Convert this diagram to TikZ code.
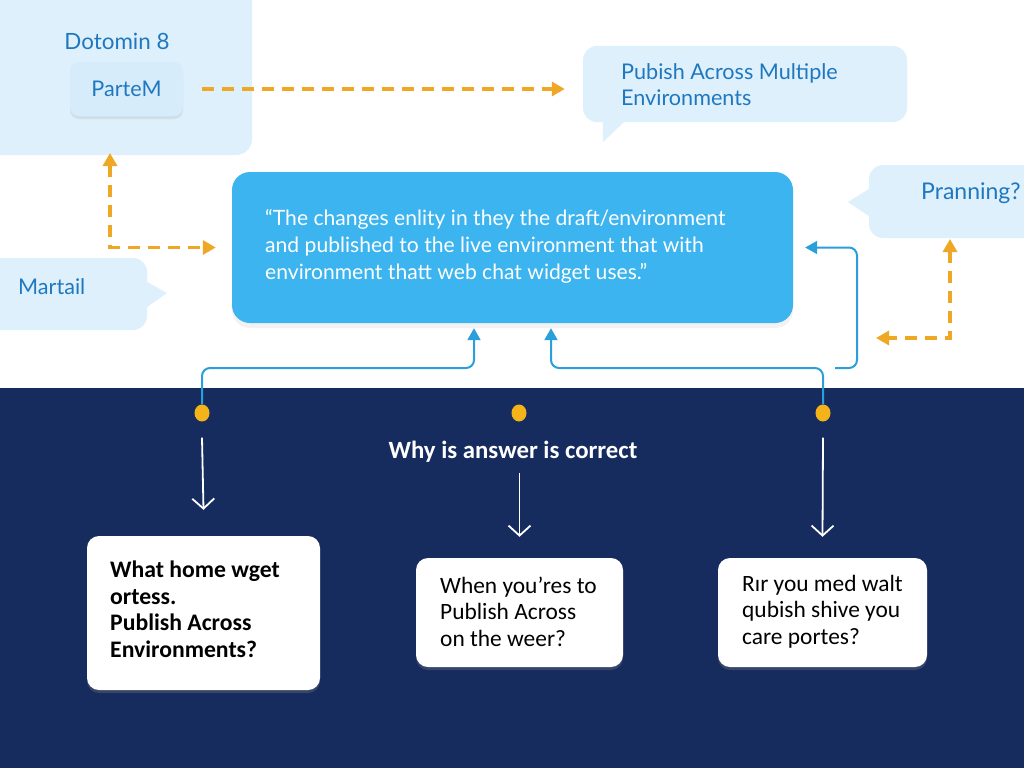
\documentclass[tikz,border=0pt]{standalone}
\usepackage{fontspec}
\setmainfont{Lato}
\newfontfamily\qfont{Carlito}
\usetikzlibrary{arrows.meta,shadows,shapes.geometric}
\definecolor{navy}{HTML}{162C5F}
\definecolor{panelc}{HTML}{DDF0FC}
\definecolor{partemc}{HTML}{D6ECFA}
\definecolor{textblue}{HTML}{1F78BF}
\definecolor{mainc}{HTML}{3BB4EF}
\definecolor{orangec}{HTML}{EFA825}
\definecolor{bluec}{HTML}{2B9FDC}
\definecolor{dotc}{HTML}{F4B419}
\tikzset{
  otip/.tip={Triangle[length=13pt,width=14pt]},
  btip/.tip={Triangle[length=12pt,width=13pt]},
  wtip/.tip={Straight Barb[length=10pt,width=22pt]},
  panelbox/.style={fill=panelc, rounded corners=16pt, inner sep=0pt},
  callout/.style={fill=panelc, rounded corners=14pt, inner sep=0pt},
  partembox/.style={fill=partemc, rounded corners=9pt, inner sep=0pt, minimum width=113pt, minimum height=54pt,
    drop shadow={opacity=0.15, shadow xshift=0pt, shadow yshift=-3pt}},
  mainbox/.style={fill=mainc, rounded corners=18pt, inner sep=0pt, minimum width=561pt, minimum height=151pt,
    drop shadow={opacity=0.10, shadow xshift=0pt, shadow yshift=-5pt}},
  qbox/.style={fill=white, rounded corners=12pt, inner sep=0pt,
    drop shadow={opacity=0.3, shadow xshift=0pt, shadow yshift=-3pt}},
  bluetext/.style={text=textblue, inner sep=0pt, font=\fontsize{21.6}{26}\selectfont},
  oarrow/.style={draw=orangec, line width=3.2pt, dash pattern=on 12pt off 8pt},
  bline/.style={draw=bluec, line width=2pt, rounded corners=8pt},
  warrow/.style={draw=white, line width=1.8pt, -wtip},
  ydot/.style={ellipse, fill=dotc, minimum width=15pt, minimum height=17pt, inner sep=0pt},
  qtext/.style={text=black, inner sep=0pt, anchor=west, align=left, font=\qfont\fontsize{23.4}{26.5}\selectfont},
}
\begin{document}
\begin{tikzpicture}[x=1pt,y=-1pt]
\useasboundingbox (0,0) rectangle (1024,768);
\fill[white] (0,0) rectangle (1024,768);
\fill[navy] (0,388) rectangle (1024,768);

% top-left panel
\node[panelbox, minimum width=272pt, minimum height=175pt] (panel) at (116,67.5) {};
\node[bluetext, font=\fontsize{22.4}{24}\selectfont] (dot8) at (117,41) {Dotomin 8};
\node[partembox] (partem) at (126.5,89) {};
\node[bluetext] (partemt) at (partem) {ParteM};

% publish callout
\node[callout, minimum width=324pt, minimum height=76pt] (pub) at (745,84) {};
\fill[panelc] ([shift={(20,-1)}]pub.south west) -- ++(0,21) -- ++(22,-21) -- cycle;
\node[bluetext, anchor=west, align=left] (pubt) at (621,85) {Pubish Across Multiple\\Environments};

% main box
\node[mainbox] (main) at (512.5,247.5) {};
\node[text=white, inner sep=0pt, anchor=west, align=left, font=\fontsize{21.1}{27}\selectfont] (maint) at (265,246)
  {“The changes enlity in they the draft/environment\\and published to the live environment that with\\environment thatt web chat widget uses.”};

% Martail callout
\node[callout, minimum width=167pt, minimum height=72pt] (mart) at (63.5,294) {};
\fill[panelc] ([yshift=-1]mart.east |- 0,281) -- (167,293) -- ([yshift=-1]mart.east |- 0,306) -- cycle;
\node[bluetext, anchor=west] (martt) at (18,287) {Martail};

% Pranning callout
\node[callout, minimum width=175pt, minimum height=73pt] (pran) at (956.5,201.5) {};
\fill[panelc] (pran.west |- 0,189) -- (848,202) -- (pran.west |- 0,216) -- cycle;
\node[bluetext, anchor=west, font=\fontsize{23}{24}\selectfont] (prant) at (921,193) {Pranning?};

% orange dashed connectors
\draw[oarrow, -otip] ([xshift=19pt]partem.east) -- ([xshift=-18pt]pub.west |- partem.east);
\coordinate (c1) at (110,153);
\draw[oarrow, otip-otip] (c1) |- ([xshift=-16pt]main.west);
\coordinate (c2) at (950,239);
\coordinate (c3) at (876,338);
\draw[oarrow, otip-otip] (c2) |- (c3);

% dots
\node[ydot] (d1) at (202,413) {};
\node[ydot] (d2) at (519,413) {};
\node[ydot] (d3) at (823,413) {};

% blue connectors
\coordinate (h1) at (0,368);
\coordinate (a1) at ([xshift=-38.5pt,yshift=-5pt]main.south);
\coordinate (a2) at ([xshift=38.5pt,yshift=-5pt]main.south);
\draw[bline, -btip] (d1.north) -- (d1 |- h1) -| (a1);
\draw[bline, -btip] (d3.north) -- (d3 |- h1) -| (a2);
\coordinate (b0) at (835,368);
\coordinate (b1) at (857,368);
\draw[bline, -btip] (b0) -- (b1) |- ([xshift=12pt]main.east);

% bottom
\node[text=white, inner sep=0pt, font=\qfont\bfseries\fontsize{24.8}{26}\selectfont] (why) at (513,452) {Why is answer is correct};

\node[qbox, minimum width=233pt, minimum height=154pt] (q1) at (203.5,613) {};
\node[qbox, minimum width=207pt, minimum height=109pt] (q2) at (519.5,612.5) {};
\node[qbox, minimum width=209pt, minimum height=109pt] (q3) at (822.5,612.5) {};
\node[qtext, font=\qfont\bfseries\fontsize{23.7}{26.5}\selectfont] (q1t) at (110,609.5) {What home wget\\ortess.\\Publish Across\\Environments?};
\node[qtext] (q2t) at (440,611.5) {When you’res to\\Publish Across\\on the weer?};
\node[qtext] (q3t) at (742,611.5) {Rır you med walt\\qubish shive you\\care portes?};

\draw[warrow] ([yshift=-16pt]d1.south) -- ([yshift=26pt]q1.north);
\draw[warrow] ([yshift=-10pt]why.south -| q2.north) -- ([yshift=21pt]q2.north);
\draw[warrow] ([yshift=-16pt]d3.south) -- ([yshift=21pt]q3.north);
\end{tikzpicture}
\end{document}
